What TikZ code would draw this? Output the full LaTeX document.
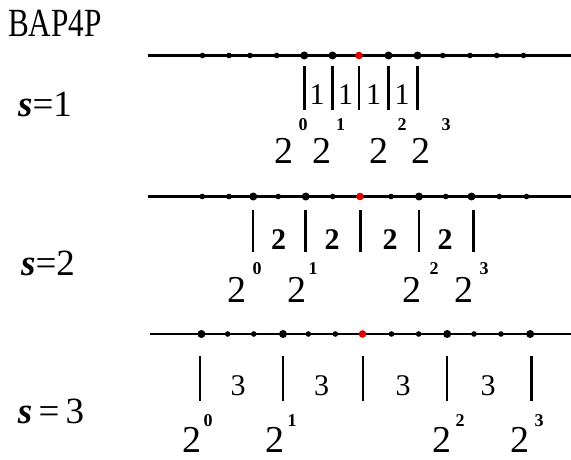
\documentclass[tikz,border=0pt]{standalone}
\usepackage{fontspec}
\setmainfont{Liberation Serif}
\begin{document}
\begin{tikzpicture}[x=1pt,y=-1pt,
  axisline/.style={line width=2.3pt},
  sdot/.style={circle, fill=black, inner sep=0pt, minimum size=5.6pt},
  bdot/.style={circle, fill=black, inner sep=0pt, minimum size=8pt},
  rdot/.style={circle, fill=red!90!black, inner sep=0pt, minimum size=7.6pt},
  tick/.style={line width=2.6pt},
  seglab/.style={font=\fontsize{30}{30}\selectfont, inner sep=0pt},
  seglabb/.style={font=\fontsize{30}{30}\selectfont\bfseries, inner sep=0pt},
  powbase/.style={font=\fontsize{38}{38}\selectfont, inner sep=0pt},
  powsup/.style={font=\fontsize{18}{18}\selectfont\bfseries, inner sep=0pt},
  slab/.style={font=\fontsize{37}{37}\selectfont, inner sep=0pt},
  titlelab/.style={font=\fontsize{40}{40}\selectfont, inner sep=0pt, xscale=0.78}
]
\useasboundingbox (0,0) rectangle (571,460);

% title
\node[titlelab] (title) at (55,23) {BAP4P};

% s labels
\node[slab] (s1) at (45,104) {\textbf{\textit{s}}=1};
\node[slab] (s2) at (48,263) {\textbf{\textit{s}}=2};
\node[slab] (s3) at (51,411) {\textbf{\textit{s}}\,=\,3};

% ---------- row 1 ----------
\coordinate (L1a) at (148,55.5);
\coordinate (L1b) at (571,55.5);
\draw[axisline] (L1a) -- (L1b);
\foreach \x/\t [count=\i] in {202.5/sdot,229/sdot,250/sdot,276.7/sdot,304.3/bdot,332.5/bdot,359/rdot,388.5/bdot,417.5/bdot,442.7/sdot,470/sdot,496.7/sdot,523.5/sdot}
  \node[\t] (r1d\i) at (\x,55.5) {};
\foreach \x [count=\i] in {304.3,332.5,359,388.5,417.5} {
  \coordinate (r1t\i a) at (\x,66);
  \coordinate (r1t\i b) at (\x,110);
  \draw[tick] (r1t\i a) -- (r1t\i b);
}
\foreach \x [count=\i] in {317,345.5,373.5,402}
  \node[seglab] (r1l\i) at (\x,95) {1};
\foreach \x [count=\i] in {283.5,322,379,421}
  \node[powbase] (r1p\i) at (\x,151) {2};
\foreach \x/\e [count=\i] in {303/0,340.5/1,402/2,446/3}
  \node[powsup] (r1e\i) at (\x,125) {\e};

% ---------- row 2 ----------
\coordinate (L2a) at (148,196.5);
\coordinate (L2b) at (571,196.5);
\draw[axisline] (L2a) -- (L2b);
\foreach \x/\t [count=\i] in {202.3/sdot,229/sdot,253.3/bdot,278.3/sdot,305.7/bdot,332.7/sdot,360/rdot,391/sdot,419/bdot,445.7/sdot,471.5/bdot,499.3/sdot,526.5/sdot}
  \node[\t] (r2d\i) at (\x,196.5) {};
\foreach \x [count=\i] in {253,305.5,360.3,419,473.5} {
  \coordinate (r2t\i a) at (\x,210);
  \coordinate (r2t\i b) at (\x,252);
  \draw[tick] (r2t\i a) -- (r2t\i b);
}
\foreach \x [count=\i] in {278.5,332,390,445}
  \node[seglabb] (r2l\i) at (\x,240) {2};
\foreach \x [count=\i] in {237,297,412,464}
  \node[powbase] (r2p\i) at (\x,290) {2};
\foreach \x/\e [count=\i] in {257/0,313/1,434/2,484/3}
  \node[powsup] (r2e\i) at (\x,269) {\e};

% ---------- row 3 ----------
\coordinate (L3a) at (150,334);
\coordinate (L3b) at (571,334);
\draw[axisline] (L3a) -- (L3b);
\foreach \x/\t [count=\i] in {201.4/bdot,227.6/sdot,253.8/sdot,283/bdot,308.4/sdot,335.4/sdot,362.5/rdot,391.5/sdot,418.6/sdot,447.2/bdot,474/sdot,501/sdot,530.2/bdot}
  \node[\t] (r3d\i) at (\x,334) {};
\foreach \x [count=\i] in {200,283,363,447,531.5} {
  \coordinate (r3t\i a) at (\x,356);
  \coordinate (r3t\i b) at (\x,401);
  \draw[tick] (r3t\i a) -- (r3t\i b);
}
\foreach \x [count=\i] in {238,321.5,403,488}
  \node[seglab] (r3l\i) at (\x,386) {3};
\foreach \x [count=\i] in {192,275,442,519.5}
  \node[powbase] (r3p\i) at (\x,440) {2};
\foreach \x/\e [count=\i] in {208/0,292/1,460/2,539/3}
  \node[powsup] (r3e\i) at (\x,421) {\e};
\end{tikzpicture}
\end{document}
